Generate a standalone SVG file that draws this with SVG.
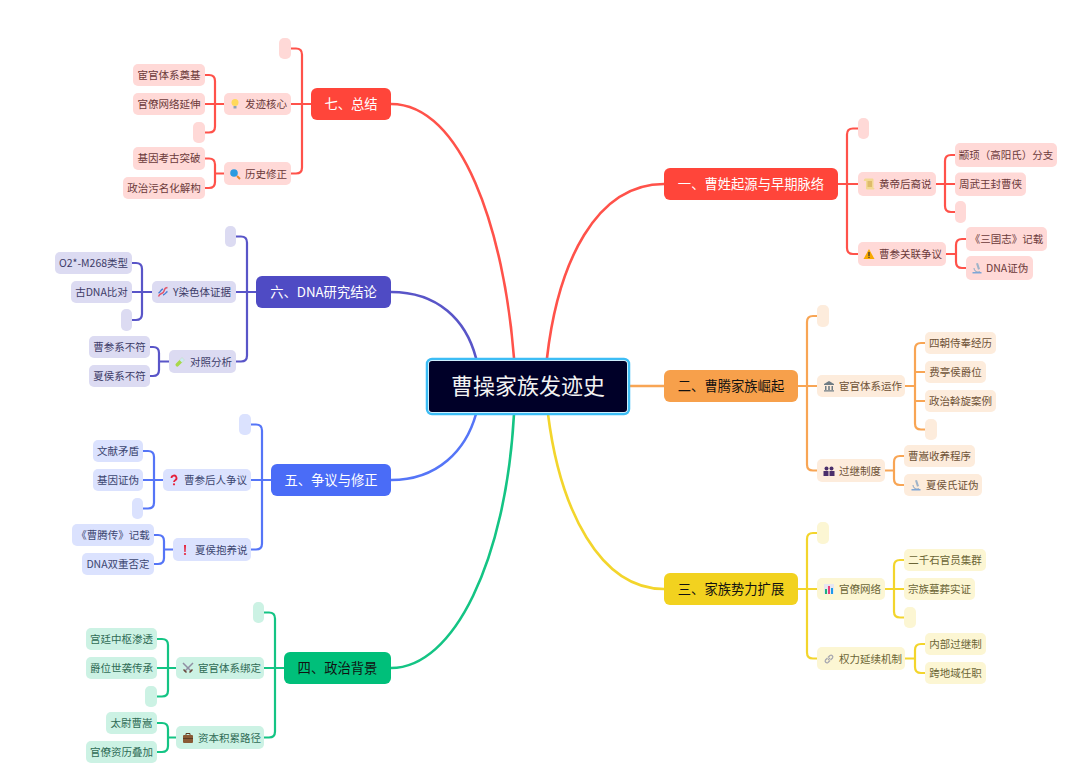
<svg xmlns="http://www.w3.org/2000/svg" xmlns:xlink="http://www.w3.org/1999/xlink" width="1080" height="780" viewBox="0 0 1080 780">
<style>
text{font-family:"Noto Sans CJK SC","Liberation Sans",sans-serif;font-size:10.5px;text-anchor:middle}
.s{text-anchor:start}
.m text{font-size:13.3px}
.w text{fill:#fff}.k text{fill:#111}
.r rect{fill:#FFD9D7}.r text{fill:#6b3a3a}
.o rect{fill:#FDECDC}.o text{fill:#6e5236}
.y rect{fill:#FCF6D3}.y text{fill:#6b6536}
.g rect{fill:#CCF2E4}.g text{fill:#2f6b55}
.b rect{fill:#DBE2FE}.b text{fill:#3b4670}
.i rect{fill:#DCDBF2}.i text{fill:#3d3c68}
.mr rect{fill:#FF453A}.mo rect{fill:#F7A04B}.my rect{fill:#F2D21F}.mg rect{fill:#00BF7A}.mb rect{fill:#4A6CF7}.mi rect{fill:#4F4BC4}
#connectors path{fill:none;stroke-width:2.200;stroke-linecap:round}
#connectors .t{stroke-width:2.600}
.lr{stroke:#FF524A}.lo{stroke:#F8A554}.ly{stroke:#F3D52C}.lg{stroke:#14C484}.lb{stroke:#5575F7}.li{stroke:#5955C8}
</style>
<defs>
<symbol id="scroll" viewBox="0 0 12 12"><path d="M2 .5h7.500q1 0 1 1V10h1q0 1.500-1 1.500H4q-1 0-1-1V3H.8q0-2.500 1.200-2.500z" fill="#F3D893"/><path d="M4.500 4h4.500M4.500 6h4.500M4.500 8h4.500" stroke="#C99F45"/></symbol>
<symbol id="warn" viewBox="0 0 12 12"><path d="M6 1 11.500 11H.5z" fill="#F7A800"/><path d="M5.400 4h1.200v4H5.400zM5.400 8.800h1.200V10H5.400z" fill="#333"/></symbol>
<symbol id="micro" viewBox="0 0 12 12"><path d="M5 1.500 7 1l2 6-2 .7z" fill="#9FB3C8"/><path d="M3 6a4 4 0 0 0 6 3.500" fill="none" stroke="#9FB3C8" stroke-width="1.200"/><path d="M1.500 10h9v1.500h-9z" fill="#7FA6D6"/></symbol>
<symbol id="bank" viewBox="0 0 12 12"><path d="M6 1 11 4v1H1V4z" fill="#6F7C85"/><path d="M2 6h1.500v4H2zM5.200 6h1.600v4H5.200zM8.500 6H10v4H8.500zM1 10.200h10V11.500H1z" fill="#6F7C85"/></symbol>
<symbol id="people" viewBox="0 0 12 12"><circle cx="3.500" cy="3.500" r="2" fill="#4A2E6B"/><circle cx="8.500" cy="3.500" r="2" fill="#4A2E6B"/><path d="M.5 6h5v5h-5zM6.500 6h5v5h-5z" fill="#4A2E6B"/></symbol>
<symbol id="chart" viewBox="0 0 12 12"><path d="M1 1h10v10H1z" fill="#E6E6F0"/><path d="M2 6h2v5H2z" fill="#22B07D"/><path d="M5 3h2v8H5z" fill="#E8407A"/><path d="M8 5h2v6H8z" fill="#1E9BE8"/></symbol>
<symbol id="link" viewBox="0 0 12 12"><path d="M5 7 7 5M4.500 5 2.500 7a1.800 1.800 0 0 0 2.500 2.500L7 7.500M5 4.500 7 2.500A1.800 1.800 0 0 1 9.500 5L7.500 7" fill="none" stroke="#A8A8B0" stroke-width="1.300"/></symbol>
<symbol id="swords" viewBox="0 0 12 12"><path d="M1 1 9.500 9.500M11 1 2.500 9.500" stroke="#8F8FA3" stroke-width="1.500"/><path d="M7.500 10.500 10.500 7.500M1.500 7.500 4.500 10.500" stroke="#6B4A3A" stroke-width="1.500"/></symbol>
<symbol id="case" viewBox="0 0 12 12"><path d="M4 3V1.500h4V3" fill="none" stroke="#5D3A22"/><rect x="1" y="3" width="10" height="8" rx="1" style="fill:#8A5A35"/><path d="M1 6.500h10" stroke="#5D3A22"/></symbol>
<symbol id="tube" viewBox="0 0 12 12"><path d="M8 1.500 10.500 4 4.500 10a1.700 1.700 0 0 1-2.500-2.500z" fill="#A8D84A"/><path d="M8 1.500 10.500 4 8 6.500 5.500 4z" fill="#CDE8F5"/></symbol>
<symbol id="dna" viewBox="0 0 12 12"><path d="M1.500 10.500C3 6 6 9 7 5s2-3 3.500-3.500" fill="none" stroke="#E0556B" stroke-width="1.400"/><path d="M1.500 7C4 6 3.500 3.500 6 3M6 9c2.500-.5 3-3 4.500-3.500" fill="none" stroke="#4A7FD6" stroke-width="1.400"/></symbol>
<symbol id="ques" viewBox="0 0 12 12"><path d="M3.500 4a2.500 2.500 0 1 1 3.700 2.200c-.8.500-1.200.9-1.200 1.800" fill="none" stroke="#E5213A" stroke-width="1.800"/><circle cx="6" cy="10.300" r="1.100" fill="#E5213A"/></symbol>
<symbol id="excl" viewBox="0 0 12 12"><path d="M5 1h2L6.600 8H5.400z" fill="#E5213A"/><circle cx="6" cy="10" r="1.100" fill="#E5213A"/></symbol>
<symbol id="bulb" viewBox="0 0 12 12"><circle cx="6" cy="4.500" r="3.500" fill="#FFD95A"/><path d="M4.500 8h3v2.500h-3z" fill="#8FA3B5"/></symbol>
<symbol id="lens" viewBox="0 0 12 12"><circle cx="5" cy="5" r="3.800" fill="#2B9BE0"/><path d="M8 8 11 11" stroke="#E88A2E" stroke-width="2"/></symbol>
</defs>
<rect width="1080" height="780" fill="#fff"/>
<g id="connectors">
<path class="lr t" d="M547 358C558 262 596 184 664 184"/>
<path class="lo t" d="M629 386H664"/>
<path class="ly t" d="M548 414C560 510 600 589 664 589"/>
<path class="lr t" d="M514 358C504 230 462 104 391 104"/>
<path class="li t" d="M476 358C466 320 438 292 391 292"/>
<path class="lb t" d="M476 414C466 450 438 480 391 480"/>
<path class="lg t" d="M514 414C506 560 454 668 391 668"/>

<path class="lr" d="M838 184H858M858 128.500H853Q847 128.500 847 134.500V248Q847 254 853 254H858"/>
<path class="lr" d="M936 184H955M955 155H951Q945 155 945 161V206Q945 212 951 212H955"/>
<path class="lr" d="M946 254H956M966 239H962Q956 239 956 245V262Q956 268 962 268H966"/>
<path class="lo" d="M798 386H817M817 316H813Q807 316 807 322V464.500Q807 470.500 813 470.500H817"/>
<path class="lo" d="M905 386H915M915 372H925M915 401H925M925 343H921Q915 343 915 349V423.500Q915 429.500 921 429.500H925"/>
<path class="lo" d="M885 470.500H894M904 456H900Q894 456 894 462V479Q894 485 900 485H904"/>
<path class="ly" d="M798 589H817M817 533H813Q807 533 807 539V652.500Q807 658.500 813 658.500H817"/>
<path class="ly" d="M885 589H904M904 560H900Q894 560 894 566V611.500Q894 617.500 900 617.500H904"/>
<path class="ly" d="M905 658.500H915M925 644H921Q915 644 915 650V667Q915 673 921 673H925"/>

<path class="lr" d="M311 104H291M291 48.500H296Q302 48.500 302 54.500V167.500Q302 173.500 296 173.500H291"/>
<path class="lr" d="M224 104H205M205 75H209Q215 75 215 81V126.500Q215 132.500 209 132.500H205"/>
<path class="lr" d="M224 173.500H215M205 158.500H209Q215 158.500 215 164.500V182Q215 188 209 188H205"/>
<path class="li" d="M256 292H236M236 236.500H241Q247 236.500 247 242.500V355.500Q247 361.500 241 361.500H236"/>
<path class="li" d="M152 292H132M132 263H136Q142 263 142 269V314Q142 320 136 320H132"/>
<path class="li" d="M169 361.500H159M150 347H153Q159 347 159 353V370Q159 376 153 376H150"/>
<path class="lb" d="M271 480H251M251 424.500H256Q262 424.500 262 430.500V543.500Q262 549.500 256 549.500H251"/>
<path class="lb" d="M163 480H143M143 451H148Q154 451 154 457V502.500Q154 508.500 148 508.500H143"/>
<path class="lb" d="M173 549.500H164M154 535H158Q164 535 164 541V558Q164 564 158 564H154"/>
<path class="lg" d="M284 668H264M264 612.500H269Q275 612.500 275 618.500V731.500Q275 737.500 269 737.500H264"/>
<path class="lg" d="M176 668H157M157 639H162Q168 639 168 645V690.500Q168 696.500 162 696.500H157"/>
<path class="lg" d="M176 737.500H168M157 723H162Q168 723 168 729V746Q168 752 162 752H157"/>
</g>

<g id="root"><rect x="427" y="359" width="202" height="55" rx="5" fill="#fff" stroke="#3DBDF5" stroke-width="2.500"/><rect x="429" y="361" width="198" height="51" rx="3" fill="#000028"/><text x="528" y="394" style="font-size:22px" fill="#f2f2f2">曹操家族发迹史</text></g>

<g id="main1" class="m mr w"><rect x="664" y="168" width="174" height="32" rx="6"/><text x="751" y="189">一、曹姓起源与早期脉络</text></g>
<g id="main2" class="m mo k"><rect x="664" y="370" width="134" height="32" rx="6"/><text x="731" y="391">二、曹腾家族崛起</text></g>
<g id="main3" class="m my k"><rect x="664" y="573" width="134" height="32" rx="6"/><text x="731" y="594">三、家族势力扩展</text></g>
<g id="main4" class="m mg k"><rect x="284" y="652" width="107" height="32" rx="6"/><text x="337.500" y="673">四、政治背景</text></g>
<g id="main5" class="m mb w"><rect x="271" y="464" width="120" height="32" rx="6"/><text x="331" y="485">五、争议与修正</text></g>
<g id="main6" class="m mi w"><rect x="256" y="276" width="135" height="32" rx="6"/><text x="323.500" y="297">六、DNA研究结论</text></g>
<g id="main7" class="m mr w"><rect x="311" y="88" width="80" height="32" rx="6"/><text x="351" y="109">七、总结</text></g>

<g id="n1-0" class="r"><rect x="858" y="118" width="11" height="21" rx="5"/></g>
<g id="n1-1" class="r"><rect x="858" y="172" width="78" height="24" rx="5"/><use xlink:href="#scroll" x="863" y="178" width="12" height="12"/><text class="s" x="879" y="188">黄帝后裔说</text></g>
<g id="n1-1a" class="r"><rect x="955" y="143" width="102" height="24" rx="5"/><text x="1006" y="159">颛顼（高阳氏）分支</text></g>
<g id="n1-1b" class="r"><rect x="955" y="172.500" width="71" height="23.500" rx="5"/><text x="990.500" y="188">周武王封曹侠</text></g>
<g id="n1-1c" class="r"><rect x="955" y="201" width="11" height="22" rx="5"/></g>
<g id="n1-2" class="r"><rect x="858" y="242" width="88" height="24" rx="5"/><use xlink:href="#warn" x="863" y="248" width="12" height="12"/><text class="s" x="879" y="258">曹参关联争议</text></g>
<g id="n1-2a" class="r"><rect x="966" y="227" width="81" height="24" rx="5"/><text x="1006.500" y="243">《三国志》记载</text></g>
<g id="n1-2b" class="r"><rect x="966" y="256" width="67" height="24" rx="5"/><use xlink:href="#micro" x="971" y="262" width="12" height="12"/><text class="s" x="986" y="272">DNA证伪</text></g>

<g id="n2-0" class="o"><rect x="817" y="305" width="12" height="22" rx="5"/></g>
<g id="n2-1" class="o"><rect x="817" y="375" width="88" height="22" rx="5"/><use xlink:href="#bank" x="823" y="380" width="12" height="12"/><text class="s" x="839" y="390">宦官体系运作</text></g>
<g id="n2-1a" class="o"><rect x="925" y="332" width="71" height="22" rx="5"/><text x="960.500" y="347">四朝侍奉经历</text></g>
<g id="n2-1b" class="o"><rect x="925" y="361" width="61" height="22" rx="5"/><text x="955.500" y="376">费亭侯爵位</text></g>
<g id="n2-1c" class="o"><rect x="925" y="390" width="71" height="22" rx="5"/><text x="960.500" y="405">政治斡旋案例</text></g>
<g id="n2-1d" class="o"><rect x="925" y="419" width="12" height="21" rx="5"/></g>
<g id="n2-2" class="o"><rect x="817" y="459" width="68" height="23" rx="5"/><use xlink:href="#people" x="823" y="465" width="12" height="12"/><text class="s" x="839" y="475">过继制度</text></g>
<g id="n2-2a" class="o"><rect x="904" y="445" width="71" height="22" rx="5"/><text x="939.500" y="460">曹嵩收养程序</text></g>
<g id="n2-2b" class="o"><rect x="904" y="474" width="78" height="22" rx="5"/><use xlink:href="#micro" x="910" y="479" width="12" height="12"/><text class="s" x="926" y="489">夏侯氏证伪</text></g>

<g id="n3-0" class="y"><rect x="817" y="522" width="12" height="22" rx="5"/></g>
<g id="n3-1" class="y"><rect x="817" y="578" width="68" height="22" rx="5"/><use xlink:href="#chart" x="823" y="583" width="12" height="12"/><text class="s" x="839" y="593">官僚网络</text></g>
<g id="n3-1a" class="y"><rect x="904" y="549" width="82" height="22" rx="5"/><text x="945" y="564">二千石官员集群</text></g>
<g id="n3-1b" class="y"><rect x="904" y="578" width="71" height="22" rx="5"/><text x="939.500" y="593">宗族墓葬实证</text></g>
<g id="n3-1c" class="y"><rect x="904" y="607" width="12" height="21" rx="5"/></g>
<g id="n3-2" class="y"><rect x="817" y="647" width="88" height="23" rx="5"/><use xlink:href="#link" x="823" y="653" width="12" height="12"/><text class="s" x="839" y="663">权力延续机制</text></g>
<g id="n3-2a" class="y"><rect x="925" y="633" width="61" height="22" rx="5"/><text x="955.500" y="648">内部过继制</text></g>
<g id="n3-2b" class="y"><rect x="925" y="662" width="61" height="22" rx="5"/><text x="955.500" y="677">跨地域任职</text></g>

<g id="n4-0" class="g"><rect x="253" y="602" width="11" height="21" rx="5"/></g>
<g id="n4-1" class="g"><rect x="176" y="657" width="88" height="22" rx="5"/><use xlink:href="#swords" x="182" y="662" width="12" height="12"/><text class="s" x="198" y="672">宦官体系绑定</text></g>
<g id="n4-1a" class="g"><rect x="86" y="628" width="71" height="22" rx="5"/><text x="121.500" y="643">宫廷中枢渗透</text></g>
<g id="n4-1b" class="g"><rect x="86" y="657" width="71" height="22" rx="5"/><text x="121.500" y="672">爵位世袭传承</text></g>
<g id="n4-1c" class="g"><rect x="145" y="686" width="12" height="21" rx="5"/></g>
<g id="n4-2" class="g"><rect x="176" y="726" width="88" height="23" rx="5"/><use xlink:href="#case" x="182" y="732" width="12" height="12"/><text class="s" x="198" y="742">资本积累路径</text></g>
<g id="n4-2a" class="g"><rect x="106" y="712" width="51" height="22" rx="5"/><text x="131.500" y="727">太尉曹嵩</text></g>
<g id="n4-2b" class="g"><rect x="86" y="741" width="71" height="22" rx="5"/><text x="121.500" y="756">官僚资历叠加</text></g>

<g id="n5-0" class="b"><rect x="239" y="414" width="12" height="21" rx="5"/></g>
<g id="n5-1" class="b"><rect x="163" y="469" width="88" height="22" rx="5"/><use xlink:href="#ques" x="168" y="474" width="12" height="12"/><text class="s" x="184" y="484">曹参后人争议</text></g>
<g id="n5-1a" class="b"><rect x="93" y="440" width="50" height="22" rx="5"/><text x="118" y="455">文献矛盾</text></g>
<g id="n5-1b" class="b"><rect x="93" y="469" width="50" height="22" rx="5"/><text x="118" y="484">基因证伪</text></g>
<g id="n5-1c" class="b"><rect x="132" y="498" width="11" height="21" rx="5"/></g>
<g id="n5-2" class="b"><rect x="173" y="538" width="78" height="23" rx="5"/><use xlink:href="#excl" x="179" y="544" width="12" height="12"/><text class="s" x="195" y="554">夏侯抱养说</text></g>
<g id="n5-2a" class="b"><rect x="72" y="524" width="82" height="22" rx="5"/><text x="113" y="539">《曹腾传》记载</text></g>
<g id="n5-2b" class="b"><rect x="82" y="553" width="72" height="22" rx="5"/><text x="118" y="568">DNA双重否定</text></g>

<g id="n6-0" class="i"><rect x="225" y="226" width="11" height="21" rx="5"/></g>
<g id="n6-1" class="i"><rect x="152" y="281" width="84" height="22" rx="5"/><use xlink:href="#dna" x="157" y="286" width="12" height="12"/><text class="s" x="173" y="296">Y染色体证据</text></g>
<g id="n6-1a" class="i"><rect x="55" y="252" width="77" height="22" rx="5"/><text x="93.500" y="267">O2*-M268类型</text></g>
<g id="n6-1b" class="i"><rect x="71" y="281" width="61" height="22" rx="5"/><text x="101.500" y="296">古DNA比对</text></g>
<g id="n6-1c" class="i"><rect x="121" y="309" width="11" height="22" rx="5"/></g>
<g id="n6-2" class="i"><rect x="169" y="350" width="67" height="23" rx="5"/><use xlink:href="#tube" x="174" y="356" width="12" height="12"/><text class="s" x="190" y="366">对照分析</text></g>
<g id="n6-2a" class="i"><rect x="89" y="336" width="61" height="22" rx="5"/><text x="119.500" y="351">曹参系不符</text></g>
<g id="n6-2b" class="i"><rect x="89" y="365" width="61" height="22" rx="5"/><text x="119.500" y="380">夏侯系不符</text></g>

<g id="n7-0" class="r"><rect x="279" y="38" width="12" height="21" rx="5"/></g>
<g id="n7-1" class="r"><rect x="224" y="93" width="67" height="22" rx="5"/><use xlink:href="#bulb" x="229" y="98" width="12" height="12"/><text class="s" x="245" y="108">发迹核心</text></g>
<g id="n7-1a" class="r"><rect x="133" y="64" width="72" height="22" rx="5"/><text x="169" y="79">宦官体系奠基</text></g>
<g id="n7-1b" class="r"><rect x="133" y="93" width="72" height="22" rx="5"/><text x="169" y="108">官僚网络延伸</text></g>
<g id="n7-1c" class="r"><rect x="193" y="122" width="12" height="21" rx="5"/></g>
<g id="n7-2" class="r"><rect x="224" y="162" width="67" height="23" rx="5"/><use xlink:href="#lens" x="229" y="168" width="12" height="12"/><text class="s" x="245" y="178">历史修正</text></g>
<g id="n7-2a" class="r"><rect x="133" y="147" width="72" height="23" rx="5"/><text x="169" y="162">基因考古突破</text></g>
<g id="n7-2b" class="r"><rect x="123" y="177" width="82" height="22" rx="5"/><text x="164" y="192">政治污名化解构</text></g>
</svg>
